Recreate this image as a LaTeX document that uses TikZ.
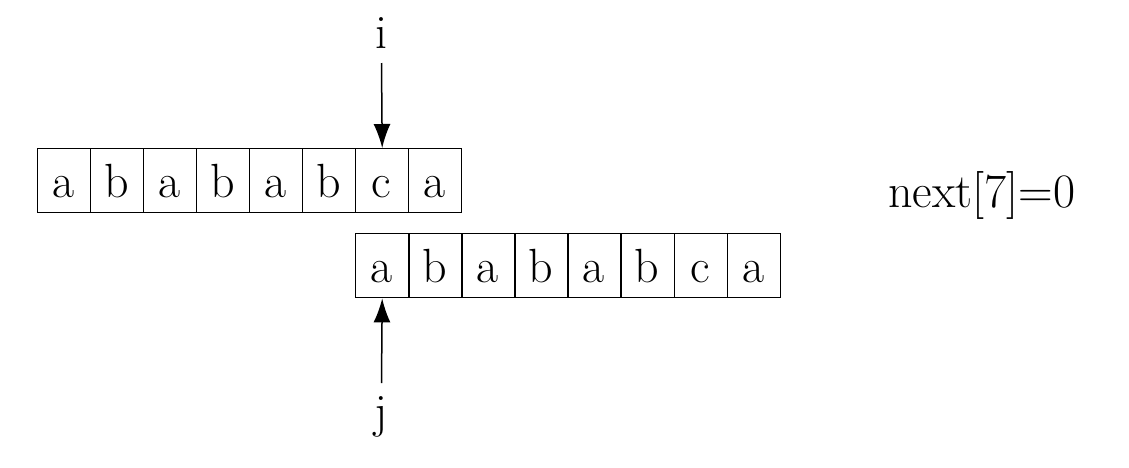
\documentclass[tikz,border=0pt]{standalone}
\usetikzlibrary{arrows.meta}
\begin{document}
\begin{tikzpicture}[x=1pt,y=-1pt,
  cell/.style={draw,line width=1.4pt,minimum width=53pt,minimum height=64pt,inner sep=0pt,anchor=north west},
  letter/.style={anchor=base,inner sep=0pt,font=\fontsize{48}{56}\selectfont},
  ptr/.style={line width=1.5pt,-{Latex[length=24pt,width=17pt]}}]
\useasboundingbox (0,0) rectangle (1129,467);
\foreach \c [count=\k from 0] in {a,b,a,b,a,b,c,a}{
  \node[cell] (t\k) at ({37+53*\k},148) {};
  \node[letter] (tl\k) at ({37+53*\k+26.5},197) {\c};
  \node[cell] (b\k) at ({355+53.1*\k},233) {};
  \node[letter] (bl\k) at ({355+53.1*\k+26.5},282) {\c};
}
\node[letter] (i) at (381.5,48) {i};
\node[letter] (j) at (381.5,427) {j};
\coordinate (itail) at (381.5,63);
\coordinate (jtail) at (381.5,383);
\draw[ptr] (itail) -- (t6.north);
\draw[ptr] (jtail) -- (b0.south);
\node[letter,anchor=base west] (nx) at (888,207) {next[7]=0};
\end{tikzpicture}
\end{document}
